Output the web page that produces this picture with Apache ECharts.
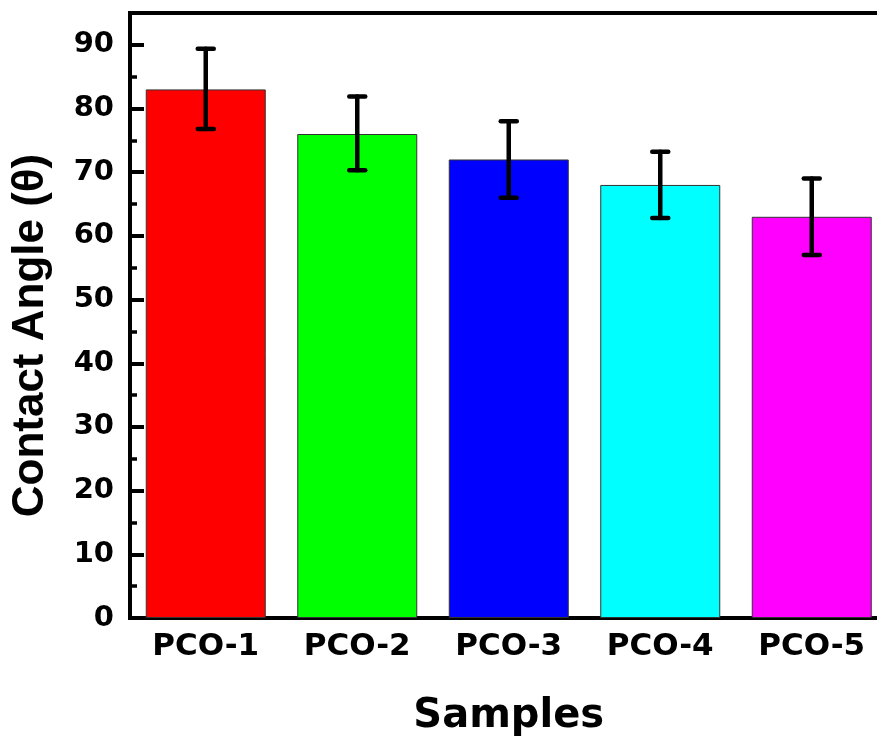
<!DOCTYPE html>
<html>
<head>
<meta charset="utf-8">
<script src="https://cdn.jsdelivr.net/npm/echarts@6/dist/echarts.min.js"></script>
<style>html,body{margin:0;padding:0;background:#fff;}#c{width:877px;height:740px;}</style>
</head>
<body>
<div id="c"></div>
<script>
const categories = ['PCO-1', 'PCO-2', 'PCO-3', 'PCO-4', 'PCO-5'];
const contactAngle = [83, 76, 72, 68, 63];
const errUp = [6.4, 5.9, 6.0, 5.2, 6.0];
const errDown = [6.2, 5.7, 6.0, 5.2, 6.0];
const barColors = ['#FF0000', '#00FF00', '#0000FF', '#00FFFF', '#FF00FF'];
const yTicks = [0, 10, 20, 30, 40, 50, 60, 70, 80, 90];

const chart = echarts.init(document.getElementById('c'), null, {renderer: 'canvas'});
const hFont = 'DejaVu Sans';
const option = {
  animation: false,
  backgroundColor: '#fff',
  grid: {left: 130, top: 13, right: -10.5, bottom: 122, outerBoundsMode: 'none', containLabel: false,
    show: true, borderColor: '#000', borderWidth: 4, backgroundColor: 'transparent'},
  xAxis: {
    type: 'category',
    data: categories,
    name: 'Samples',
    nameLocation: 'middle',
    nameGap: 79,
    nameTextStyle: {fontFamily: hFont, fontWeight: 'bold', fontSize: 40, color: '#000'},
    axisLine: {lineStyle: {color: '#000', width: 4}},
    axisTick: {show: false},
    axisLabel: {fontFamily: hFont, fontWeight: 'bold', fontSize: 31, color: '#000', margin: 13},
    splitLine: {show: false}
  },
  yAxis: [{
    type: 'value',
    min: 0, max: 95, interval: 10,
    name: 'Contact Angle (θ)',
    nameLocation: 'middle',
    nameGap: 77,
    nameTextStyle: {fontFamily: 'Liberation Sans', fontWeight: 'bold', fontSize: 44, color: '#000', padding: [0, 40, 0, 0]},
    axisLine: {show: true, lineStyle: {color: '#000', width: 4}},
    axisTick: {show: true, inside: true, length: 14, lineStyle: {color: '#000', width: 4}},
    axisLabel: {fontFamily: hFont, fontWeight: 'bold', fontSize: 29, color: '#000', margin: 16, showMaxLabel: false,
      formatter: v => (yTicks.indexOf(v) >= 0 ? String(v) : '')},
    splitLine: {show: false}
  }, {
    type: 'value',
    min: 0, max: 95, interval: 5,
    position: 'left',
    axisLine: {show: false},
    axisTick: {show: true, inside: true, length: 7, lineStyle: {color: '#000', width: 3.5}},
    axisLabel: {show: false},
    splitLine: {show: false}
  }],
  series: [{
    type: 'bar',
    data: contactAngle.map((v, i) => ({value: v, itemStyle: {color: barColors[i]}})),
    barWidth: 120,
    itemStyle: {borderColor: '#333', borderWidth: 1},
    z: 2
  }, {
    type: 'custom',
    data: contactAngle.map((v, i) => [i, v - errDown[i], v + errUp[i]]),
    renderItem: function (params, api) {
      const x = api.value(0);
      const lo = api.coord([x, api.value(1)]);
      const hi = api.coord([x, api.value(2)]);
      const hw = 8;
      const st = {stroke: '#000', lineWidth: 4.5, lineCap: 'round'};
      return {type: 'group', children: [
        {type: 'line', shape: {x1: hi[0], y1: hi[1], x2: lo[0], y2: lo[1]}, style: st},
        {type: 'line', shape: {x1: hi[0] - hw, y1: hi[1], x2: hi[0] + hw, y2: hi[1]}, style: st},
        {type: 'line', shape: {x1: lo[0] - hw, y1: lo[1], x2: lo[0] + hw, y2: lo[1]}, style: st}
      ]};
    },
    z: 5
  }]
};
chart.setOption(option);
</script>
</body>
</html>
